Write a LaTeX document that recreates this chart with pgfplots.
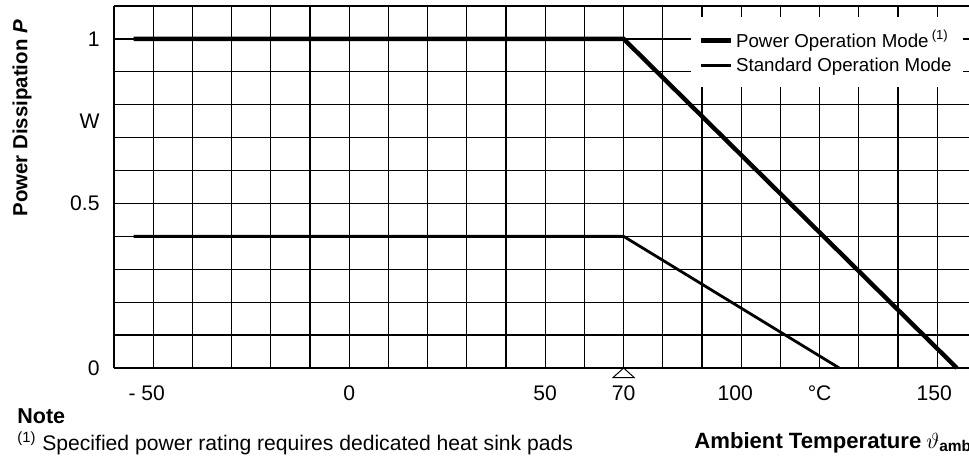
\documentclass[border=0pt]{standalone}
\usepackage{amsmath}
\usepackage{fontspec}
\setmainfont{Liberation Sans}
\usepackage{pgfplots}
\pgfplotsset{compat=1.18}

\begin{document}
\begin{tikzpicture}
\begin{axis}[
    scale only axis,
    width=427.5bp, height=181bp,
    xmin=-60, xmax=158.1,
    ymin=0, ymax=1.1,
    clip=false,
    axis lines*=left,
    axis line style={line width=0.9bp, black},
    xtick={-50,0,50,70,100,120,150},
    xticklabels={{\llap{- }50},0,50,70,{\hspace{-6bp}100},°C,{\hspace{-3bp}150}},
    minor xtick={-60,-50,-40,-30,-20,-10,0,10,20,30,40,50,60,70,80,90,100,110,120,130,140,150,160},
    ytick={0,0.5,1},
    yticklabels={0,0.5,1},
    minor ytick={0,0.1,0.2,0.3,0.4,0.5,0.6,0.7,0.8,0.9,1,1.1},
    extra y ticks={0.75}, extra y tick labels={W},
    extra y tick style={grid=none},
    grid=both,
    major grid style={line width=0.6bp, black},
    minor grid style={line width=0.6bp, black},
    major tick length=0pt, minor tick length=0pt,
    tick label style={font=\fontsize{10.6}{12}\selectfont, inner sep=0pt},
    xticklabel style={anchor=north, text height=7.6pt, text depth=0pt, yshift=-8.5bp},
    yticklabel style={anchor=east, xshift=-7bp},
    legend style={at={(rel axis cs:1,1)}, anchor=north east,
        xshift=-3bp, yshift=-5.5bp, draw=none, fill=white,
        inner xsep=4bp, inner ysep=5bp,
        row sep=0.5bp,
        font=\fontsize{9.4}{11}\selectfont,
        nodes={inner sep=1.5bp}},
    legend cell align=left,
    legend image code/.code={\draw[#1] (0bp,0bp) -- (15bp,0bp);},
]
% power mode needs heat sink pads
\addplot[line width=2.2bp, black] coordinates {(-55,1) (70,1) (155,0)};
\addlegendentry{Power Operation Mode\,\textsuperscript{(1)}}
\addplot[line width=1.4bp, black] coordinates {(-55,0.4) (70,0.4) (125,0)};
\addlegendentry{Standard Operation Mode}

% derating marker at 70 C
\draw[line width=0.5bp] (axis cs:70,0) -- ([shift={(-5.25bp,-4.75bp)}]axis cs:70,0)
    -- ([shift={(5.25bp,-4.75bp)}]axis cs:70,0) -- cycle;

\node[rotate=90, anchor=east, font=\bfseries\fontsize{10.25}{12}\selectfont]
    at ([shift={(-46bp,-3.5bp)}]rel axis cs:0,1) {Power Dissipation \textit{P}};
\node[anchor=base west, inner sep=0pt, font=\bfseries\fontsize{11.1}{13}\selectfont]
    at ([shift={(290bp,-40bp)}]rel axis cs:0,0) {Ambient Temperature\hspace{2.5bp}$\vartheta_{\textbf{amb}}$};
\node[anchor=base west, inner sep=0pt, font=\bfseries\fontsize{10.8}{12}\selectfont]
    at ([shift={(-48.5bp,-27.5bp)}]rel axis cs:0,0) {Note};
\node[anchor=base west, inner sep=0pt, font=\fontsize{10.6}{12}\selectfont]
    at ([shift={(-48.5bp,-41bp)}]rel axis cs:0,0) {\textsuperscript{(1)} Specified power rating requires dedicated heat sink pads};

\coordinate (ll) at (rel axis cs:0,0);
\coordinate (ur) at (rel axis cs:1,1);
\end{axis}
\pgfresetboundingbox
\path[use as bounding box] ([shift={(-57bp,-46bp)}]ll) rectangle ([shift={(0bp,3bp)}]ur);
\end{tikzpicture}
\end{document}
